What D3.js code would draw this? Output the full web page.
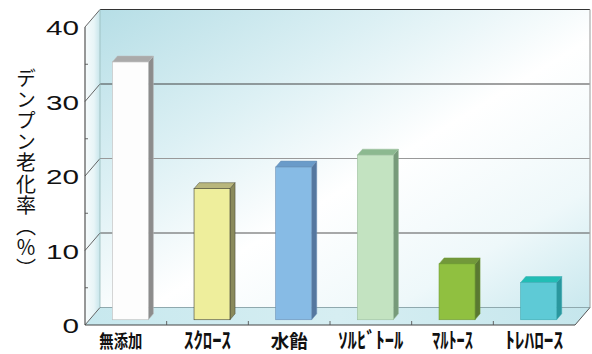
<!DOCTYPE html>
<html><head><meta charset="utf-8">
<script src="https://cdn.jsdelivr.net/npm/d3@7"></script>
<style>html,body{margin:0;padding:0;background:#fff;}svg{display:block;}</style>
</head><body>
<svg id="c" width="592" height="354"></svg>
<script>
const categories = ["無添加","ｽｸﾛｰｽ","水飴","ｿﾙﾋﾞﾄｰﾙ","ﾏﾙﾄｰｽ","ﾄﾚﾊﾛｰｽ"];
const values = [34.6, 17.6, 20.5, 22.1, 7.5, 5.0];
const yTicks = [0, 10, 20, 30, 40];
const yMinor = [5, 15, 25, 35];
const yTitle = "デンプン老化率（％）";

const frontColors = ["#fdfdfd","#eeee9c","#87bbe5","#c3e3c1","#90c040","#5ecad6"];
const topColors   = ["#aaaaaa","#b8b67c","#6a9bc9","#8cb990","#72983a","#22bdb5"];
const sideColors  = ["#8c8c8c","#8a8a5c","#55779f","#779a7a","#5a7832","#2a979e"];
const edgeColors  = ["#bbbbbb","#444433","#6a8fb5","#9dbf9f","#6f9a35","#3aaab2"];
const labelWidths = [43, 47, 37, 65, 41, 58];
const labelSizes  = [18, 22, 18, 22, 22, 22];

const svg = d3.select("#c");
const X0 = 85, X1 = 575;
const D = {x: 15, y: -17.5};
const y = d3.scaleLinear().domain([0, 40]).range([325, 27]);
const x = d3.scaleBand().domain(categories).range([X0, X1]).paddingInner(0.56).paddingOuter(0.28);
const band = d3.scaleBand().domain(categories).range([X0, X1]);

const defs = svg.append("defs");
const g1 = defs.append("linearGradient").attr("id","wall").attr("x1","0").attr("y1","0").attr("x2","1").attr("y2","1");
[[0,"#b6dee6"],[0.3,"#dcf0f4"],[0.55,"#ffffff"],[0.8,"#eef8fa"],[1,"#c9e8ee"]].forEach(s=>g1.append("stop").attr("offset",s[0]).attr("stop-color",s[1]));
const g2 = defs.append("linearGradient").attr("id","lwall").attr("x1","0").attr("y1","0").attr("x2","1").attr("y2","0");
[[0,"#f6fbfc"],[0.6,"#e8f5f7"],[1,"#c6e5eb"]].forEach(s=>g2.append("stop").attr("offset",s[0]).attr("stop-color",s[1]));
const g3 = defs.append("linearGradient").attr("id","floor").attr("x1","0").attr("y1","0").attr("x2","1").attr("y2","0");
[[0,"#c7e8ee"],[0.5,"#d6eef2"],[1,"#c5e6ec"]].forEach(s=>g3.append("stop").attr("offset",s[0]).attr("stop-color",s[1]));

const y0 = y(0), yTop = y(40);
svg.append("rect").attr("x", X0 + D.x).attr("y", yTop + D.y).attr("width", X1 - X0).attr("height", y0 - yTop).attr("fill","url(#wall)");
svg.append("polygon").attr("points", [[X0,yTop],[X0+D.x,yTop+D.y],[X0+D.x,y0+D.y],[X0,y0]].map(p=>p.join(",")).join(" ")).attr("fill","url(#lwall)");
svg.append("polygon").attr("points", [[X0,y0],[X1,y0],[X1+D.x,y0+D.y],[X0+D.x,y0+D.y]].map(p=>p.join(",")).join(" ")).attr("fill","url(#floor)");

const gridColor = {0:"#8fa9ae",10:"#555",20:"#999",30:"#444",40:"#333"};
yTicks.forEach(v=>{
  const yy = y(v);
  svg.append("line").attr("x1",X0+D.x).attr("x2",X1+D.x).attr("y1",yy+D.y).attr("y2",yy+D.y).attr("stroke",gridColor[v]).attr("stroke-width",1.2);
  svg.append("line").attr("x1",X0).attr("x2",X0+D.x).attr("y1",yy).attr("y2",yy+D.y).attr("stroke","#555").attr("stroke-width",0.9);
});
svg.append("line").attr("x1",X0+D.x).attr("x2",X0+D.x).attr("y1",yTop+D.y).attr("y2",y0+D.y).attr("stroke","#9bb").attr("stroke-width",0.8);
svg.append("line").attr("x1",X1+D.x).attr("x2",X1+D.x).attr("y1",yTop+D.y).attr("y2",y0+D.y).attr("stroke","#aaa").attr("stroke-width",1.2);
svg.append("line").attr("x1",X1).attr("x2",X1+D.x).attr("y1",y0).attr("y2",y0+D.y).attr("stroke","#555").attr("stroke-width",1);

const f0 = 0.3, fd = 0.34;
const bo = {x: D.x*f0, y: D.y*f0};
const bd = {x: D.x*fd, y: D.y*fd};
categories.forEach((c,i)=>{
  const xl = x(c) + bo.x, xr = xl + x.bandwidth();
  const yb = y(0) + bo.y, yt = y(values[i]) + bo.y;
  const g = svg.append("g");
  g.append("polygon").attr("points",[[xr,yt],[xr+bd.x,yt+bd.y],[xr+bd.x,yb+bd.y],[xr,yb]].map(p=>p.join(",")).join(" "))
    .attr("fill",sideColors[i]).attr("stroke",edgeColors[i]).attr("stroke-width",0.5);
  g.append("polygon").attr("points",[[xl,yt],[xr,yt],[xr+bd.x,yt+bd.y],[xl+bd.x,yt+bd.y]].map(p=>p.join(",")).join(" "))
    .attr("fill",topColors[i]).attr("stroke",edgeColors[i]).attr("stroke-width",0.5);
  g.append("rect").attr("x",xl).attr("y",yt).attr("width",x.bandwidth()).attr("height",yb-yt)
    .attr("fill",frontColors[i]).attr("stroke",edgeColors[i]).attr("stroke-width",0.6);
});

svg.append("line").attr("x1",X0).attr("x2",X0).attr("y1",yTop).attr("y2",y0).attr("stroke","#444").attr("stroke-width",1.1);
svg.append("line").attr("x1",X0).attr("x2",X1).attr("y1",y0).attr("y2",y0).attr("stroke","#444").attr("stroke-width",1.1);
yMinor.forEach(v=>{
  svg.append("line").attr("x1",X0).attr("x2",X0+3).attr("y1",y(v)).attr("y2",y(v)).attr("stroke","#555").attr("stroke-width",0.9);
});
categories.slice(1).forEach(c=>{
  const bx = band(c);
  svg.append("line").attr("x1",bx).attr("x2",bx).attr("y1",y0).attr("y2",y0-4).attr("stroke","#555").attr("stroke-width",0.9);
});

yTicks.forEach(v=>{
  const s = String(v);
  svg.append("text").attr("x",79).attr("y",y(v)+8).attr("text-anchor","end")
    .attr("font-family","'Liberation Sans', Arial, sans-serif").attr("font-size",21)
    .attr("textLength", s.length*16.5).attr("lengthAdjust","spacingAndGlyphs")
    .attr("fill","#111").text(s);
});

categories.forEach((c,i)=>{
  svg.append("text").attr("x",band(c)+band.bandwidth()/2 - (i===0?5:0)).attr("y",348).attr("text-anchor","middle")
    .attr("font-family","'Noto Sans CJK JP', sans-serif").attr("font-size",labelSizes[i]).attr("font-weight",700)
    .attr("textLength",labelWidths[i]).attr("lengthAdjust","spacingAndGlyphs")
    .attr("fill","#111").text(c);
});

svg.append("text").attr("x",26).attr("y",68)
  .attr("font-family","'Noto Sans CJK JP', sans-serif").attr("font-size",20)
  .attr("letter-spacing",1.2)
  .style("writing-mode","vertical-rl").attr("fill","#111").text(yTitle);
</script>
</body></html>
